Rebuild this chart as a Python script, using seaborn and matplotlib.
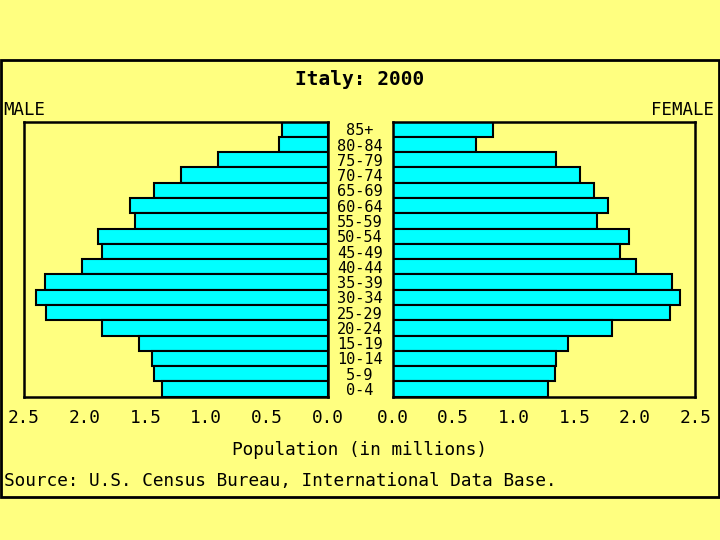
import matplotlib
matplotlib.use("Agg")
import matplotlib.pyplot as plt
import matplotlib.patches as patches
import seaborn as sns
import pandas as pd

# Age groups, top of the pyramid first
ages = ["85+", "80-84", "75-79", "70-74", "65-69", "60-64", "55-59", "50-54",
        "45-49", "40-44", "35-39", "30-34", "25-29", "20-24", "15-19",
        "10-14", "5-9", "0-4"]

# Population in millions
male = [0.38, 0.40, 0.90, 1.21, 1.43, 1.63, 1.59, 1.89, 1.86, 2.02,
        2.33, 2.40, 2.32, 1.86, 1.55, 1.45, 1.43, 1.36]
female = [0.83, 0.69, 1.35, 1.55, 1.66, 1.78, 1.69, 1.95, 1.88, 2.01,
          2.31, 2.37, 2.29, 1.81, 1.45, 1.35, 1.34, 1.28]

ticks = [0.0, 0.5, 1.0, 1.5, 2.0, 2.5]
tick_labels = ["0.0", "0.5", "1.0", "1.5", "2.0", "2.5"]

data = pd.DataFrame({"age": ages, "male": male, "female": female})

bg = "#ffff80"
sns.set_style("white")
plt.rcParams["font.family"] = ["DejaVu Sans Mono"]
plt.rcParams["axes.facecolor"] = bg
plt.rcParams["figure.facecolor"] = bg
plt.rcParams["text.color"] = "black"
plt.rcParams["xtick.color"] = "black"
plt.rcParams["ytick.color"] = "black"
plt.rcParams["xtick.labelcolor"] = "black"
plt.rcParams["ytick.labelcolor"] = "black"

fig = plt.figure(figsize=(7.2, 5.4), dpi=100)
ax_l = fig.add_axes([0.0333, 0.2654, 0.4218, 0.5093])
ax_r = fig.add_axes([0.5454, 0.2654, 0.4203, 0.5093])

sns.barplot(data=data, x="male", y="age", ax=ax_l, color="#00ffff",
            saturation=1, edgecolor="black", linewidth=1.5, width=1.0)
sns.barplot(data=data, x="female", y="age", ax=ax_r, color="#00ffff",
            saturation=1, edgecolor="black", linewidth=1.5, width=1.0)

for ax in (ax_l, ax_r):
    ax.set_facecolor(bg)
    ax.set_xlim(0, 2.5)
    ax.set_ylim(len(ages) - 0.5, -0.5)
    ax.set_xticks(ticks)
    ax.set_xticklabels(tick_labels, fontsize=12.8)
    ax.tick_params(axis="x", direction="out", length=5, width=1.5,
                   color="black", labelcolor="black", pad=4)
    ax.set_xlabel("")
    ax.set_ylabel("")
    for s in ax.spines.values():
        s.set_visible(True)
        s.set_color("black")
        s.set_linewidth(1.8)

ax_l.invert_xaxis()

# age labels sit in the middle gap
ax_l.yaxis.tick_right()
ax_l.tick_params(axis="y", length=0, pad=23, labelsize=11,
                 labelcolor="black")
for lab in ax_l.get_yticklabels():
    lab.set_horizontalalignment("center")
ax_r.set_yticks([])

fig.text(0.5, 0.853, "Italy: 2000", ha="center", va="center",
         fontsize=14, fontweight="bold", color="black")
fig.text(0.005, 0.797, "MALE", ha="left", va="center", fontsize=12.5,
         color="black")
fig.text(0.992, 0.797, "FEMALE", ha="right", va="center", fontsize=12.5,
         color="black")
fig.text(0.5, 0.166, "Population (in millions)", ha="center",
         va="center", fontsize=12.8, color="black")
fig.text(0.005, 0.109, "Source: U.S. Census Bureau, International Data Base.",
         ha="left", va="center", fontsize=12.8, color="black")

# frame around the whole chart
fig.patches.append(patches.Rectangle((0.002, 0.0796), 0.996, 0.809,
                                     transform=fig.transFigure, fill=False,
                                     edgecolor="black", linewidth=2))

fig.savefig("out.png", dpi=100, facecolor=bg)
